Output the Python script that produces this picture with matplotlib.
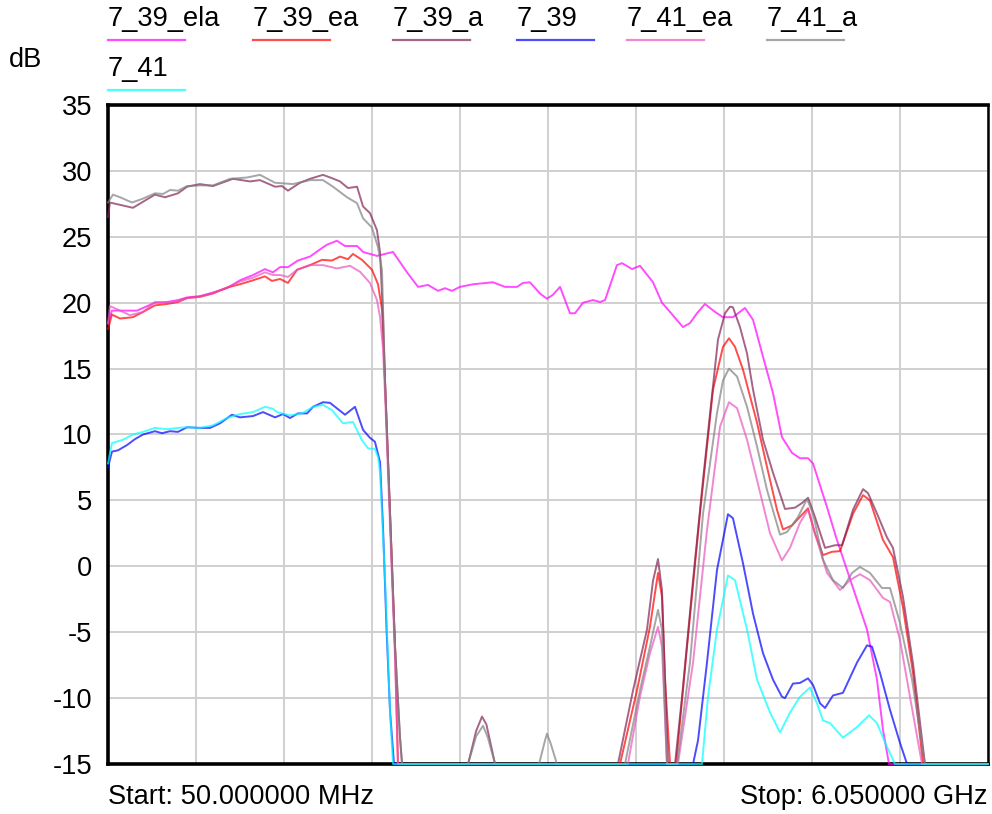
import numpy as np
from matplotlib import pyplot as plt

# (MHz, dB); -15 is the display floor
s_39_ela = [(50, 18.5), (77, 19.4), (248, 19.4), (370, 20.0), (452, 20.05), (527, 20.2), (589, 20.4),
            (677, 20.5), (759, 20.75), (861, 21.1), (950, 21.7), (1039, 22.1), (1120, 22.55), (1175, 22.3),
            (1223, 22.7), (1277, 22.7), (1345, 23.2), (1427, 23.5), (1509, 24.15), (1543, 24.4), (1611, 24.7),
            (1666, 24.3), (1748, 24.3), (1789, 23.85), (1884, 23.55), (1993, 23.85), (2089, 22.3), (2164, 21.2),
            (2232, 21.35), (2300, 20.9), (2348, 21.1), (2395, 20.9), (2450, 21.2), (2539, 21.4), (2675, 21.55),
            (2757, 21.2), (2839, 21.2), (2880, 21.5), (2927, 21.55), (2995, 20.7), (3043, 20.3), (3084, 20.6),
            (3132, 21.2), (3200, 19.2), (3234, 19.2), (3289, 20.0), (3357, 20.2), (3405, 20.05), (3439, 20.2),
            (3520, 22.85), (3555, 23.0), (3623, 22.55), (3677, 22.8), (3766, 21.55), (3827, 20.0), (3882, 19.3),
            (3970, 18.15), (4018, 18.45), (4066, 19.2), (4120, 19.9), (4189, 19.3), (4243, 18.9), (4311, 18.9),
            (4393, 19.6), (4448, 18.7), (4516, 15.9), (4584, 13.15), (4645, 9.8), (4714, 8.6), (4768, 8.2),
            (4823, 8.2), (4857, 7.8), (4952, 4.5), (5020, 2.0), (5130, -1.65), (5225, -4.8), (5293, -8.6),
            (5334, -12.4), (5375, -15), (6050, -15)]

s_39_ea = [(50, 18.0), (77, 19.1), (132, 18.8), (220, 18.9), (289, 19.3), (370, 19.8), (452, 19.9),
           (527, 20.05), (589, 20.35), (677, 20.45), (766, 20.7), (861, 21.15), (950, 21.4), (1039, 21.7),
           (1120, 22.0), (1168, 21.65), (1223, 21.8), (1277, 21.5), (1339, 22.5), (1427, 22.85), (1509, 23.25),
           (1577, 23.2), (1632, 23.5), (1686, 23.3), (1720, 23.7), (1782, 23.25), (1850, 22.5), (1891, 21.4),
           (1918, 19.5), (1939, 14.0), (1973, 4.0), (2007, -6.1), (2027, -15), (3541, -15), (3657, -9.4),
           (3745, -4.6), (3800, -0.5), (3827, -2.3), (3848, -8.6), (3882, -15), (3923, -15), (3998, -6.1),
           (4086, 4.0), (4175, 13.4), (4243, 16.65), (4284, 17.3), (4325, 16.65), (4380, 14.9), (4475, 10.9),
           (4543, 7.55), (4611, 4.3), (4652, 2.8), (4714, 3.1), (4768, 3.75), (4823, 4.4), (4870, 2.5),
           (4925, 0.85), (4986, 1.1), (5041, 1.15), (5130, 4.0), (5198, 5.4), (5245, 5.0), (5334, 2.0),
           (5402, 0.7), (5470, -3.1), (5539, -8.1), (5607, -15), (6050, -15)]

s_39_a = [(50, 26.5), (63, 27.6), (220, 27.2), (370, 28.2), (439, 28.0), (527, 28.3), (589, 28.8),
          (677, 29.0), (766, 28.85), (902, 29.4), (1018, 29.2), (1086, 29.3), (1189, 28.8), (1236, 28.85),
          (1277, 28.5), (1359, 29.1), (1427, 29.4), (1516, 29.7), (1577, 29.45), (1632, 29.2), (1686, 28.7),
          (1748, 28.8), (1789, 27.3), (1836, 26.8), (1884, 25.5), (1905, 23.8), (1925, 18.9), (1939, 14.0),
          (1973, 4.0), (2007, -6.1), (2041, -13.0), (2055, -15), (2505, -15), (2560, -12.5), (2600, -11.4),
          (2630, -12.0), (2689, -15), (3527, -15), (3630, -9.4), (3725, -4.8), (3766, -1.1), (3800, 0.55),
          (3827, -1.8), (3848, -8.6), (3868, -15), (3916, -15), (3964, -9.9), (4039, -1.05), (4107, 6.55),
          (4155, 11.6), (4209, 17.2), (4257, 19.2), (4291, 19.7), (4311, 19.65), (4359, 18.15), (4407, 16.15),
          (4448, 13.4), (4516, 9.6), (4584, 7.1), (4666, 4.35), (4734, 4.45), (4782, 4.8), (4823, 5.2),
          (4870, 3.75), (4939, 1.4), (5007, 1.6), (5055, 1.6), (5130, 4.3), (5198, 5.85), (5232, 5.55),
          (5293, 4.0), (5361, 2.2), (5402, 1.4), (5470, -2.3), (5539, -7.4), (5620, -15), (6050, -15)]

s_39 = [(50, 7.5), (77, 8.7), (118, 8.8), (180, 9.2), (234, 9.65), (289, 10.0), (370, 10.25), (418, 10.1),
        (473, 10.25), (527, 10.2), (589, 10.55), (677, 10.5), (745, 10.5), (814, 10.85), (895, 11.5),
        (950, 11.3), (1039, 11.4), (1107, 11.7), (1189, 11.3), (1243, 11.55), (1291, 11.25), (1345, 11.6),
        (1407, 11.6), (1448, 12.1), (1516, 12.45), (1564, 12.4), (1666, 11.5), (1734, 12.1), (1789, 10.35),
        (1836, 9.75), (1870, 9.45), (1905, 7.9), (1925, 3.0), (1950, -5.0), (1973, -11.0), (2000, -15),
        (4039, -15), (4073, -13.2), (4134, -7.3), (4202, -0.3), (4277, 3.95), (4311, 3.65), (4380, 0.2),
        (4448, -3.6), (4516, -6.6), (4584, -8.6), (4645, -9.9), (4666, -10.0), (4720, -8.9), (4768, -8.85),
        (4823, -8.5), (4857, -9.0), (4905, -10.4), (4939, -10.75), (4993, -9.8), (5061, -9.6), (5157, -7.3),
        (5225, -6.0), (5259, -6.1), (5314, -8.1), (5382, -10.9), (5450, -13.4), (5498, -15), (6050, -15)]

s_41_ea = [(50, 18.4), (63, 19.75), (200, 19.05), (289, 19.3), (370, 20.05), (452, 20.0), (527, 20.1),
           (589, 20.35), (677, 20.45), (759, 20.7), (861, 21.15), (950, 21.6), (1039, 21.9), (1120, 22.3),
           (1175, 22.1), (1223, 22.1), (1277, 21.95), (1339, 22.5), (1427, 22.85), (1516, 22.85), (1611, 22.6),
           (1700, 22.8), (1768, 22.35), (1836, 21.5), (1884, 20.2), (1905, 18.9), (1925, 16.5), (1939, 13.0),
           (1973, 3.0), (2007, -7.0), (2027, -15), (3595, -15), (3677, -9.9), (3745, -6.6), (3800, -4.6),
           (3827, -6.1), (3861, -15), (3936, -15), (4039, -7.3), (4134, 2.75), (4223, 10.6), (4284, 12.45),
           (4339, 12.0), (4407, 9.6), (4475, 6.55), (4564, 2.5), (4645, 0.45), (4700, 1.4), (4768, 3.3),
           (4823, 4.3), (4870, 2.5), (4952, -0.5), (5041, -1.8), (5109, -1.05), (5177, -0.6), (5245, -1.05),
           (5334, -2.4), (5382, -2.7), (5450, -5.6), (5518, -9.9), (5600, -15), (6050, -15)]

s_41_a = [(50, 27.6), (84, 28.2), (132, 28.0), (214, 27.6), (289, 27.9), (370, 28.3), (425, 28.25),
          (473, 28.55), (527, 28.5), (589, 28.85), (677, 28.9), (766, 28.9), (882, 29.4), (998, 29.5),
          (1086, 29.7), (1189, 29.1), (1311, 29.0), (1427, 29.3), (1516, 29.3), (1584, 28.8), (1680, 28.0),
          (1748, 27.55), (1789, 26.4), (1850, 25.7), (1891, 24.2), (1918, 22.5), (1939, 14.0), (1973, 4.0),
          (2007, -6.1), (2041, -13.0), (2055, -15), (2505, -15), (2560, -12.9), (2607, -12.1), (2640, -13.0),
          (2689, -15), (2989, -15), (3030, -13.2), (3043, -12.7), (3070, -13.5), (3111, -15), (3575, -15),
          (3677, -9.4), (3745, -6.1), (3800, -3.3), (3827, -4.8), (3861, -15), (3930, -15), (4018, -7.3),
          (4107, 4.0), (4202, 11.6), (4243, 14.1), (4284, 15.0), (4339, 14.4), (4407, 12.1), (4475, 9.1),
          (4543, 5.8), (4632, 2.4), (4680, 2.6), (4755, 3.75), (4816, 5.1), (4857, 4.0), (4925, 0.5),
          (4993, -1.05), (5061, -1.65), (5123, -0.5), (5177, -0.05), (5245, -0.5), (5327, -1.65),
          (5382, -1.65), (5450, -4.3), (5532, -8.6), (5620, -15), (6050, -15)]

s_41 = [(50, 7.8), (77, 9.35), (152, 9.6), (220, 10.0), (289, 10.2), (370, 10.5), (452, 10.4), (527, 10.5),
        (589, 10.55), (677, 10.5), (766, 10.7), (861, 11.25), (950, 11.55), (1039, 11.7), (1120, 12.1),
        (1175, 11.95), (1202, 11.7), (1291, 11.45), (1373, 11.6), (1448, 12.1), (1516, 12.25), (1577, 11.85),
        (1652, 10.85), (1720, 10.95), (1782, 9.55), (1823, 8.95), (1870, 8.9), (1891, 8.3), (1905, 7.1),
        (1939, -1.0), (1973, -11.1), (1993, -15), (4100, -15), (4141, -9.9), (4202, -4.8), (4277, -0.7),
        (4325, -1.05), (4407, -4.8), (4475, -8.6), (4564, -11.1), (4632, -12.6), (4700, -11.1), (4768, -9.9),
        (4836, -9.2), (4884, -10.4), (4925, -11.7), (4973, -11.9), (5061, -13.0), (5157, -12.2),
        (5239, -11.3), (5293, -11.9), (5361, -13.7), (5416, -15), (6050, -15)]

labels = ["7_39_ela", "7_39_ea", "7_39_a", "7_39", "7_41_ea", "7_41_a", "7_41"]
series = [s_39_ela, s_39_ea, s_39_a, s_39, s_41_ea, s_41_a, s_41]
colors = ["#ff00ff", "#ff0000", "#802355", "#0000ff", "#eb55c0", "#808080", "#00ffff"]

f_start, f_stop = 50, 6050
y_ticks = np.arange(-15, 36, 5)

plt.rcParams['font.family'] = ['Liberation Sans', 'DejaVu Sans']
plt.rcParams['axes.unicode_minus'] = False
fs = 19.6

fig = plt.figure(figsize=(9.92, 8.14), dpi=100)
W, H = 992, 814
ax = fig.add_axes([108 / W, (H - 764) / H, 880 / W, 659 / H])

for data, c in zip(series, colors):
    d = np.array(data)
    ax.plot(d[:, 0], d[:, 1], color=c, alpha=0.7, lw=1.4, zorder=3, clip_on=False)

ax.set_xlim(f_start, f_stop)
ax.set_ylim(-15, 35)
ax.set_xticks(np.linspace(f_start, f_stop, 11))
ax.set_yticks(y_ticks)
ax.set_xticklabels([])
ax.tick_params(length=0, labelsize=fs, pad=11.5)
ax.grid(True, color="#d0d0d0", lw=1.4)
ax.set_axisbelow(True)
for side in ["left", "top", "bottom"]:
    ax.spines[side].set_linewidth(2.6)
ax.spines["right"].set_linewidth(1.8)

# legend: labels with a coloured underline
leg_x = [108, 253, 393, 517, 627, 767, 108]
leg_row = [0, 0, 0, 0, 0, 0, 1]
for lab, c, lx, r in zip(labels, colors, leg_x, leg_row):
    ty = 19 + 50 * r
    fig.text(lx / W, 1 - ty / H, lab, fontsize=fs, va="center", ha="left")
    uy = 1 - (40 + 50 * r) / H
    fig.add_artist(plt.Line2D([lx / W, (lx + 77) / W], [uy, uy], color=c, alpha=0.7, lw=1.6))

fig.text(9 / W, 1 - 60 / H, "dB", fontsize=fs, va="center", ha="left")
fig.text(108 / W, 1 - 797 / H, "Start: 50.000000 MHz", fontsize=fs, va="center", ha="left")
fig.text(988 / W, 1 - 797 / H, "Stop: 6.050000 GHz", fontsize=fs, va="center", ha="right")

fig.savefig("out.png", dpi=100)
plt.close("all")
